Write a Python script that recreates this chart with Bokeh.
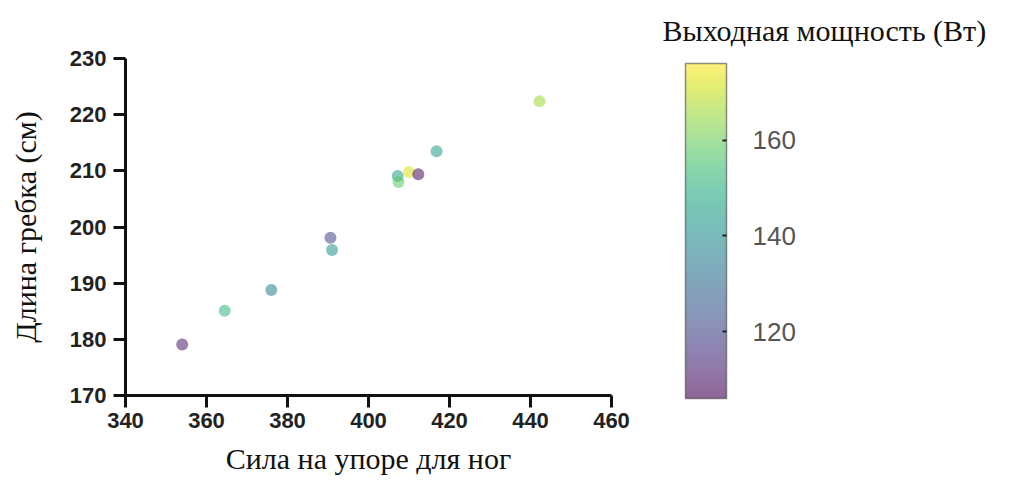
from bokeh.plotting import figure
from bokeh.models import (ColumnDataSource, LinearColorMapper, ColorBar, Range1d,
                          FixedTicker)
from bokeh.palettes import Viridis256
from bokeh.embed import file_html
from bokeh.resources import INLINE

# Leg-drive force vs stroke length, coloured by output power
leg_force = [354.0, 364.5, 376.0, 390.6, 391.0, 407.2, 407.4, 410.0, 412.3, 416.8, 442.2]
stroke_length = [179.1, 185.1, 188.8, 198.1, 195.9, 209.1, 208.0, 209.8, 209.4, 213.5, 222.4]
power_w = [112, 152, 135, 120, 141, 146, 158, 172, 108, 145, 166]

x_ticks = [340, 360, 380, 400, 420, 440, 460]
y_ticks = [170, 180, 190, 200, 210, 220, 230]
cbar_ticks = [120, 140, 160]

src = ColumnDataSource(dict(x=leg_force, y=stroke_length, p=power_w))
mapper = LinearColorMapper(palette=Viridis256, low=106, high=176)

p = figure(width=1013, height=481, output_backend="svg", toolbar_location=None,
           x_range=Range1d(340, 460), y_range=Range1d(170, 230),
           min_border_left=125, min_border_top=57, min_border_bottom=86,
           min_border_right=402)
p.outline_line_color = None
p.grid.visible = False
p.background_fill_color = "white"
p.border_fill_color = "white"

# colour-bar caption, pushed to the right over the bar
p.title.text = "Выходная мощность (Вт)"
p.title.align = "left"
p.title.offset = 537
p.title.text_font = "Liberation Serif"
p.title.text_font_style = "normal"
p.title.text_font_size = "30px"
p.title.text_color = "#111111"
p.title.standoff = 23

p.scatter("x", "y", source=src, size=12,
          fill_color={"field": "p", "transform": mapper},
          line_color=None, fill_alpha=0.55)

for ax in (p.xaxis[0], p.yaxis[0]):
    ax.axis_line_width = 3
    ax.axis_line_color = "#111111"
    ax.major_tick_line_width = 3
    ax.major_tick_line_color = "#111111"
    ax.major_tick_out = 12
    ax.major_tick_in = 0
    ax.minor_tick_line_color = None
    ax.major_label_text_font = "Liberation Sans"
    ax.major_label_text_font_style = "bold"
    ax.major_label_text_font_size = "22px"
    ax.major_label_text_color = "#222222"
    ax.axis_label_text_font = "Liberation Serif"
    ax.axis_label_text_font_style = "normal"
    ax.axis_label_text_font_size = "30px"
    ax.axis_label_text_color = "#111111"

p.xaxis.ticker = FixedTicker(ticks=x_ticks)
p.yaxis.ticker = FixedTicker(ticks=y_ticks)
p.xaxis.major_label_standoff = 5
p.yaxis.major_label_standoff = 7
p.xaxis.axis_label = "Сила на упоре для ног"
p.yaxis.axis_label = "Длина гребка (см)"
p.xaxis.axis_label_standoff = 11
p.yaxis.axis_label_standoff = 25

cb = ColorBar(color_mapper=mapper, ticker=FixedTicker(ticks=cbar_ticks),
              width=41, height=335, location=(74, -3), margin=0, padding=0,
              scale_alpha=0.6,
              bar_line_color="#444444", bar_line_width=1.5,
              border_line_color=None, background_fill_color=None,
              major_tick_line_color="#222222", major_tick_line_width=2,
              major_tick_in=4, major_tick_out=0,
              major_label_text_font="Liberation Sans",
              major_label_text_font_size="26px",
              major_label_text_color="#555555",
              label_standoff=26)
p.add_layout(cb, "right")

open("out.html", "w").write(file_html(p, INLINE))
